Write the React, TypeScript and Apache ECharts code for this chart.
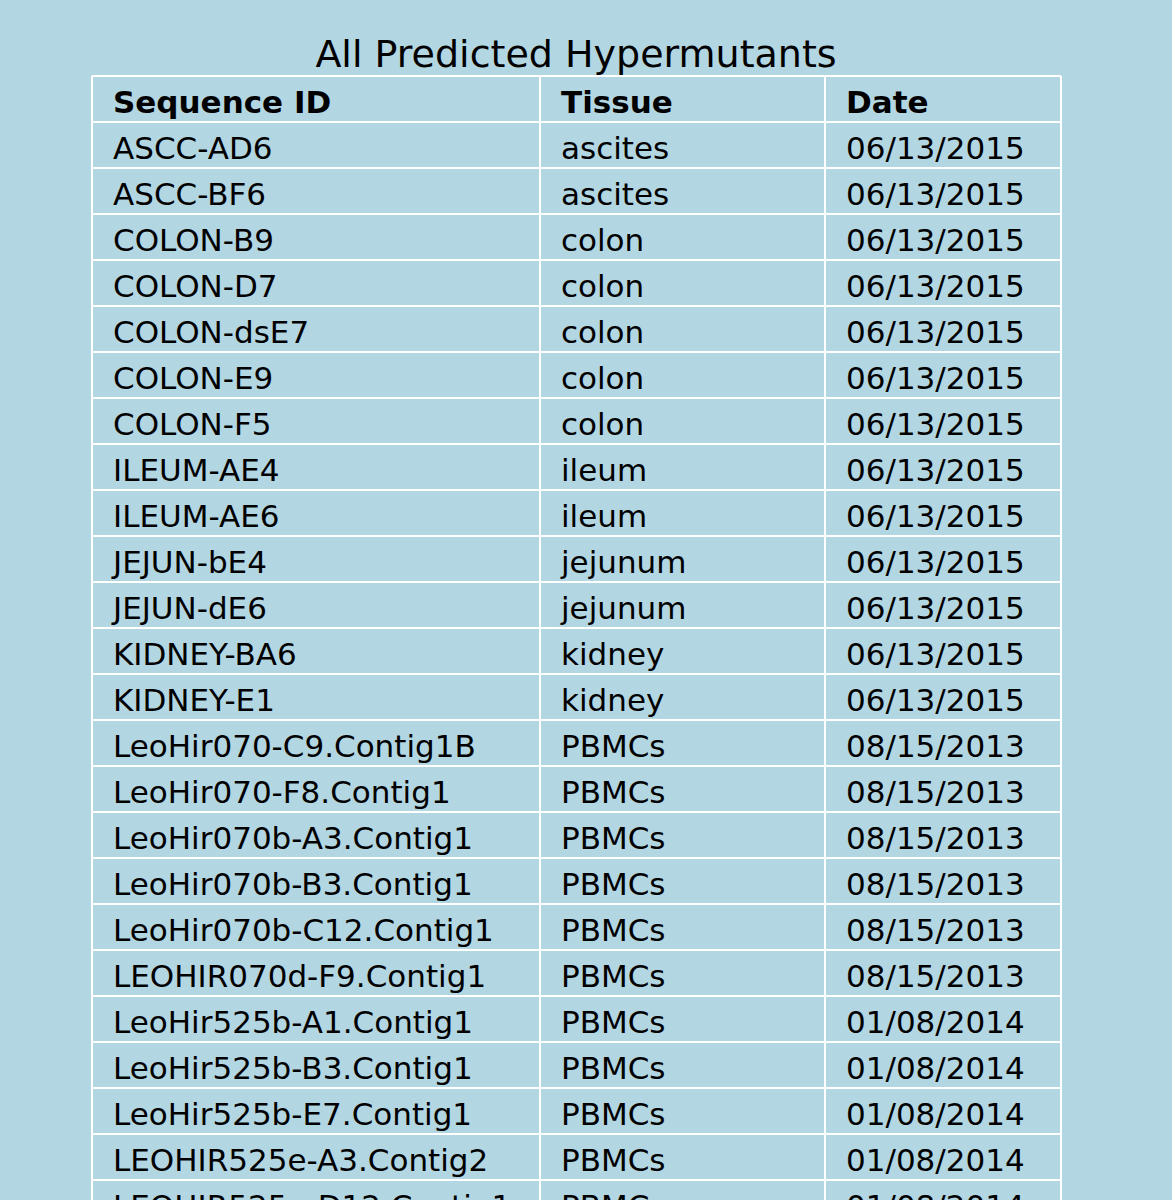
import { useEffect, useRef } from "react";
import * as echarts from "echarts";

const HEADERS = ["Sequence ID", "Tissue", "Date"];
const sequenceIds = [
  "ASCC-AD6", "ASCC-BF6", "COLON-B9", "COLON-D7", "COLON-dsE7", "COLON-E9", "COLON-F5",
  "ILEUM-AE4", "ILEUM-AE6", "JEJUN-bE4", "JEJUN-dE6", "KIDNEY-BA6", "KIDNEY-E1",
  "LeoHir070-C9.Contig1B", "LeoHir070-F8.Contig1", "LeoHir070b-A3.Contig1",
  "LeoHir070b-B3.Contig1", "LeoHir070b-C12.Contig1", "LEOHIR070d-F9.Contig1",
  "LeoHir525b-A1.Contig1", "LeoHir525b-B3.Contig1", "LeoHir525b-E7.Contig1",
  "LEOHIR525e-A3.Contig2", "LEOHIR525e-D12.Contig1",
];
const tissues = [
  "ascites", "ascites", "colon", "colon", "colon", "colon", "colon",
  "ileum", "ileum", "jejunum", "jejunum", "kidney", "kidney",
  "PBMCs", "PBMCs", "PBMCs", "PBMCs", "PBMCs", "PBMCs",
  "PBMCs", "PBMCs", "PBMCs", "PBMCs", "PBMCs",
];
const dates = [
  "06/13/2015", "06/13/2015", "06/13/2015", "06/13/2015", "06/13/2015", "06/13/2015", "06/13/2015",
  "06/13/2015", "06/13/2015", "06/13/2015", "06/13/2015", "06/13/2015", "06/13/2015",
  "08/15/2013", "08/15/2013", "08/15/2013", "08/15/2013", "08/15/2013", "08/15/2013",
  "01/08/2014", "01/08/2014", "01/08/2014", "01/08/2014", "01/08/2014",
];

const LEFT = 92;
const RIGHT = 1061;
const COL_X = [92, 540, 825];
const TOP = 76;
const ROW_H = 46;
const FONT = "'DejaVu Sans', Verdana, sans-serif";

export default function App() {
  const chartRef = useRef<HTMLDivElement>(null);

  useEffect(() => {
    document.body.style.margin = "0";
    if (!chartRef.current) return;
    const chart = echarts.init(chartRef.current, null, { renderer: "svg" });

    const columns = [sequenceIds, tissues, dates];
    const nRows = sequenceIds.length + 1;
    const bottom = TOP + nRows * ROW_H;
    const elements: any[] = [];

    const cellText = (text: string, col: number, row: number, bold: boolean) => ({
      type: "text",
      x: COL_X[col] + 21,
      y: TOP + row * ROW_H + ROW_H / 2 + 3,
      style: {
        text,
        fill: "#000",
        font: `${bold ? "bold " : ""}31px ${FONT}`,
        verticalAlign: "middle",
        align: "left",
      },
    });

    HEADERS.forEach((h, c) => elements.push(cellText(h, c, 0, true)));
    columns.forEach((col, c) =>
      col.forEach((v, r) => elements.push(cellText(v, c, r + 1, false)))
    );

    const line = (x1: number, y1: number, x2: number, y2: number) => ({
      type: "line",
      shape: { x1, y1, x2, y2 },
      style: { stroke: "#ffffff", lineWidth: 2 },
    });
    for (let r = 0; r <= nRows; r++) {
      elements.push(line(LEFT, TOP + r * ROW_H, RIGHT, TOP + r * ROW_H));
    }
    [...COL_X, RIGHT].forEach((x) => elements.push(line(x, TOP, x, bottom)));

    elements.push({
      type: "text",
      x: 576,
      y: 54,
      style: {
        text: "All Predicted Hypermutants",
        fill: "#000",
        font: `38px ${FONT}`,
        align: "center",
        verticalAlign: "middle",
      },
    });

    chart.setOption({
      animation: false,
      backgroundColor: "#b3d6e3",
      graphic: elements,
    });

    return () => chart.dispose();
  }, []);

  return <div ref={chartRef} style={{ width: 1172, height: 1200 }} />;
}
